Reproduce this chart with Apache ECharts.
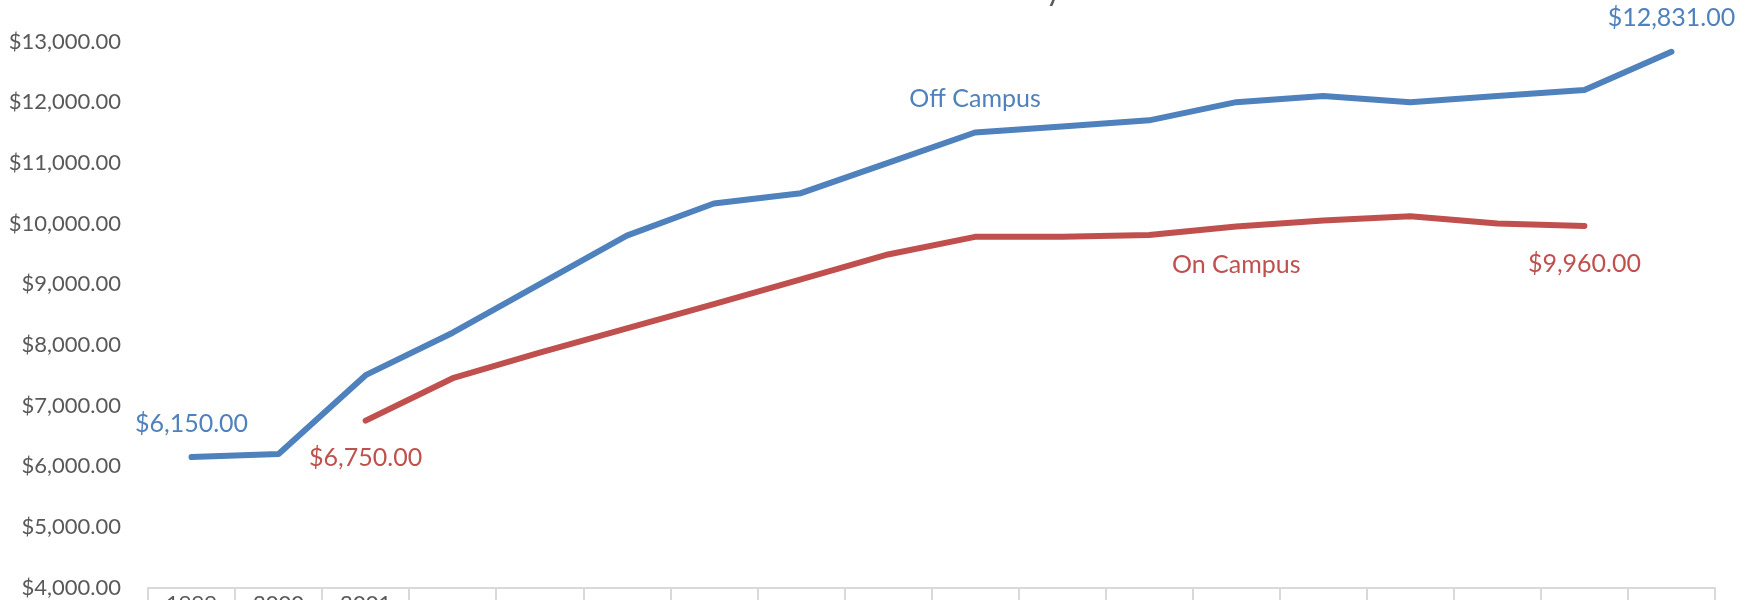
<!DOCTYPE html>
<html>
<head>
<meta charset="utf-8">
<script src="https://cdn.jsdelivr.net/npm/echarts@6/dist/echarts.min.js"></script>
<style>
html,body{margin:0;padding:0;background:#fff;}
#c{width:1757px;height:600px;}
</style>
</head>
<body>
<div id="c"></div>
<script>
const categories = ['1999','2000','2001','2002','2003','2004','2005','2006','2007','2008','2009','2010','2011','2012','2013','2014','2015','2016'];
const tickLabels = ['1999','2000','2001','','','','','','','','','','','','','','',''];
const offCampus = [6150,6200,7500,8200,9000,9800,10330,10500,11000,11500,11600,11700,12000,12100,12000,12100,12200,12831];
const onCampus  = [null,null,6750,7450,7870,8270,8670,9080,9490,9780,9780,9810,9950,10050,10120,10000,9960,null];
const yTicks = [4000,5000,6000,7000,8000,9000,10000,11000,12000,13000];
const titleText = 'Room and Board Cost History';

const FONT = 'Lato';
const BLUE = '#4F81BD';
const RED = '#C0504D';
const money = v => '$' + Number(v).toLocaleString('en-US',{minimumFractionDigits:2,maximumFractionDigits:2});

function build(values, color, labels) {
  return values.map((v, i) => {
    if (labels[i]) return {value: v, label: Object.assign({show: true, color: color, fontFamily: FONT, fontSize: 25}, labels[i])};
    return v;
  });
}

const offLabels = {
  0: {position: 'top', distance: 21, formatter: p => money(p.value)},
  9: {position: 'top', distance: 21, formatter: 'Off Campus'},
  17: {position: 'top', distance: 21, formatter: p => money(p.value)}
};
const onLabels = {
  2: {position: 'bottom', distance: 25, formatter: p => money(p.value)},
  12: {position: 'bottom', distance: 26, formatter: 'On Campus'},
  16: {position: 'bottom', distance: 26, formatter: p => money(p.value)}
};

const chart = echarts.init(document.getElementById('c'));
chart.setOption({
  animation: false,
  backgroundColor: '#fff',
  grid: {left: 148, right: 42, top: 41.5, bottom: 12.5, containLabel: false, outerBoundsMode: 'none'},
  graphic: [{
    type: 'text', x: 1062, y: 6, z: 10,
    style: {text: titleText, font: '32px ' + FONT, fill: '#595959', align: 'right', verticalAlign: 'bottom'}
  }],
  xAxis: {
    type: 'category',
    data: categories,
    boundaryGap: true,
    axisLine: {show: true, lineStyle: {color: '#d9d9d9', width: 2}},
    axisTick: {show: true, length: 20, interval: 0, lineStyle: {color: '#d9d9d9', width: 2}},
    axisLabel: {interval: 0, margin: 5, color: '#595959', fontFamily: FONT, fontSize: 22,
      formatter: (v, i) => tickLabels[i]}
  },
  yAxis: {
    type: 'value',
    min: yTicks[0], max: yTicks[yTicks.length - 1], interval: 1000,
    axisLine: {show: false}, axisTick: {show: false},
    splitLine: {show: false},
    axisLabel: {margin: 27, color: '#595959', fontFamily: FONT, fontSize: 22, formatter: v => money(v)}
  },
  series: [
    {name: 'Off Campus', type: 'line', data: build(offCampus, BLUE, offLabels), showSymbol: true, symbol: 'circle', symbolSize: 0,
     lineStyle: {color: BLUE, width: 6, cap: 'round', join: 'round'}, itemStyle: {color: BLUE}},
    {name: 'On Campus', type: 'line', data: build(onCampus, RED, onLabels), showSymbol: true, symbol: 'circle', symbolSize: 0, connectNulls: false,
     lineStyle: {color: RED, width: 6, cap: 'round', join: 'round'}, itemStyle: {color: RED}}
  ]
});
</script>
</body>
</html>
